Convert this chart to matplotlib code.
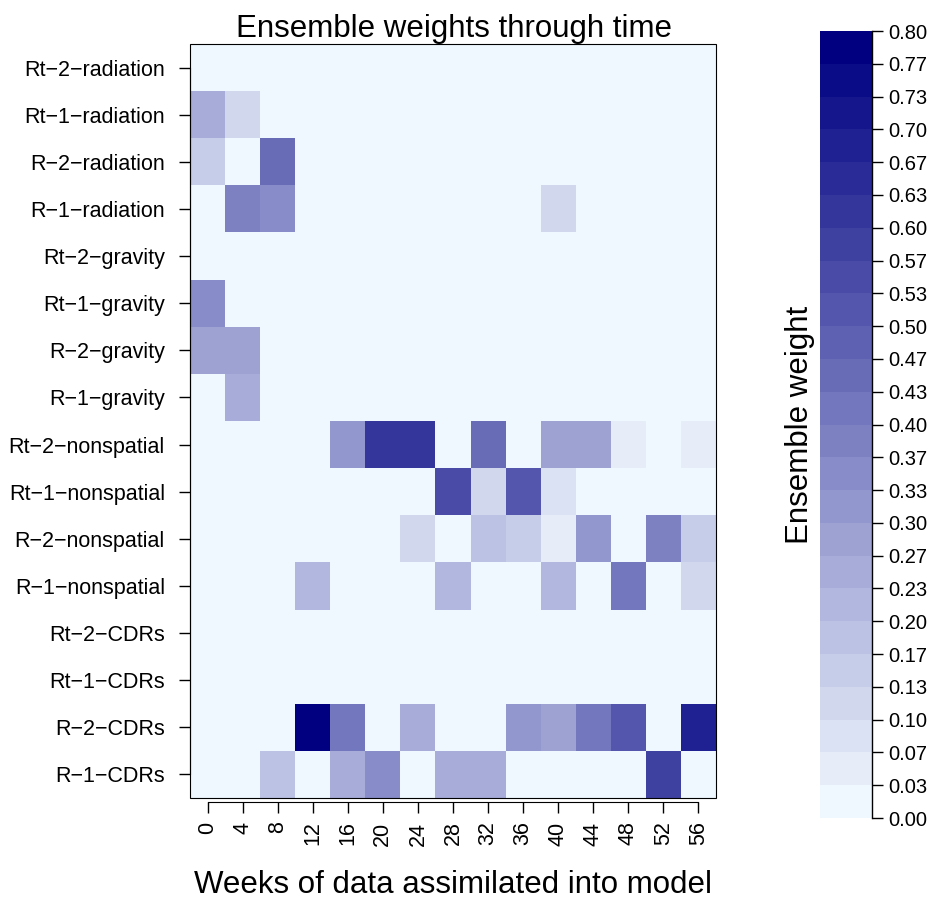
import numpy as np
import matplotlib
matplotlib.use("Agg")
import matplotlib.pyplot as plt
from matplotlib.colors import ListedColormap, BoundaryNorm, to_rgb
from matplotlib.patches import Rectangle

plt.rcParams['font.family'] = ['Liberation Sans', 'DejaVu Sans']

# weeks of data assimilated (columns)
weeks = [0, 4, 8, 12, 16, 20, 24, 28, 32, 36, 40, 44, 48, 52, 56]

# models, top to bottom
models = ["Rt-2-radiation", "Rt-1-radiation", "R-2-radiation", "R-1-radiation",
          "Rt-2-gravity", "Rt-1-gravity", "R-2-gravity", "R-1-gravity",
          "Rt-2-nonspatial", "Rt-1-nonspatial", "R-2-nonspatial", "R-1-nonspatial",
          "Rt-2-CDRs", "Rt-1-CDRs", "R-2-CDRs", "R-1-CDRs"]

# ensemble weight per model (row) and week (column)
weights = [
    [0, 0, 0, 0, 0, 0, 0, 0, 0, 0, 0, 0, 0, 0, 0],
    [0.25, 0.117, 0, 0, 0, 0, 0, 0, 0, 0, 0, 0, 0, 0, 0],
    [0.15, 0, 0.45, 0, 0, 0, 0, 0, 0, 0, 0, 0, 0, 0, 0],
    [0, 0.383, 0.35, 0, 0, 0, 0, 0, 0, 0, 0.117, 0, 0, 0, 0],
    [0, 0, 0, 0, 0, 0, 0, 0, 0, 0, 0, 0, 0, 0, 0],
    [0.35, 0, 0, 0, 0, 0, 0, 0, 0, 0, 0, 0, 0, 0, 0],
    [0.283, 0.283, 0, 0, 0, 0, 0, 0, 0, 0, 0, 0, 0, 0, 0],
    [0, 0.25, 0, 0, 0, 0, 0, 0, 0, 0, 0, 0, 0, 0, 0],
    [0, 0, 0, 0, 0.317, 0.617, 0.617, 0, 0.45, 0, 0.283, 0.283, 0.05, 0, 0.05],
    [0, 0, 0, 0, 0, 0, 0, 0.55, 0.117, 0.517, 0.083, 0, 0, 0, 0],
    [0, 0, 0, 0, 0, 0, 0.117, 0, 0.183, 0.15, 0.05, 0.317, 0, 0.383, 0.15],
    [0, 0, 0, 0.217, 0, 0, 0, 0.217, 0, 0, 0.217, 0, 0.417, 0, 0.117],
    [0, 0, 0, 0, 0, 0, 0, 0, 0, 0, 0, 0, 0, 0, 0],
    [0, 0, 0, 0, 0, 0, 0, 0, 0, 0, 0, 0, 0, 0, 0],
    [0, 0, 0, 0.783, 0.417, 0, 0.25, 0, 0, 0.317, 0.283, 0.417, 0.517, 0, 0.683],
    [0, 0, 0.183, 0, 0.25, 0.35, 0, 0.25, 0.25, 0, 0, 0, 0, 0.583, 0],
]

n_levels = 24
zmax = 0.8

# colour ramp aliceblue -> navy, like colorRampPalette in R
c0 = np.array(to_rgb("aliceblue"))
c1 = np.array(to_rgb("navy"))
cols = [np.clip(c0 + (c1 - c0) * k / (n_levels - 1), 0, 1) for k in range(n_levels)]
cmap = ListedColormap(cols)
bounds = np.linspace(0, zmax, n_levels + 1)
norm = BoundaryNorm(bounds, cmap.N)

W, H = 941, 899
fig = plt.figure(figsize=(W / 100, H / 100), dpi=100)
ax = fig.add_axes([190 / W, 1 - 798 / H, 526 / W, 754 / H])

z = np.array(weights)
xe = np.arange(len(weeks) + 1) - 0.5
ye = np.arange(len(models) + 1) - 0.5
ax.pcolormesh(xe, ye, z, cmap=cmap, norm=norm)

# axis lines like R: bottom one sits just under the box, both span first..last tick
for s in ['top', 'right']:
    ax.spines[s].set_visible(False)
ax.spines['bottom'].set_position(('outward', 3))

ax.set_xlim(-0.5, len(weeks) - 0.5)
ax.set_ylim(len(models) - 0.5, -0.5)
ax.spines['bottom'].set_bounds(0, len(weeks) - 1)
ax.spines['left'].set_bounds(0, len(models) - 1)

ax.set_xticks(range(len(weeks)))
ax.set_xticklabels([str(w) for w in weeks])
ax.set_yticks(range(len(models)))
ax.set_yticklabels([m.replace("-", "\u2212") for m in models])
ax.tick_params(axis='both', direction='out', length=8, width=1, color='black',
               labelsize=15.5)
ax.tick_params(axis='x', pad=6, labelrotation=90)
ax.tick_params(axis='y', pad=10)

ax.add_patch(Rectangle((0, 0), 1, 1, transform=ax.transAxes, fill=False,
                       lw=0.8, ec='black', clip_on=False))

fig.text(454 / W, 1 - 37 / H, "Ensemble weights through time", fontsize=22.5,
         ha='center', va='baseline')
fig.text(453 / W, 1 - 893 / H, "Weeks of data assimilated into model", fontsize=22.5,
         ha='center', va='baseline')

# colour key
cax = fig.add_axes([820 / W, 1 - 818 / H, 52 / W, 787 / H])
cb = fig.colorbar(plt.cm.ScalarMappable(norm=norm, cmap=cmap), cax=cax,
                  ticks=bounds)
cb.outline.set_visible(False)
cb.ax.set_yticklabels(["%.2f" % b for b in bounds])
cb.ax.tick_params(labelsize=14.5, length=8, width=1, direction='out')
cb.ax.spines['right'].set_visible(True)
cb.ax.spines['right'].set_linewidth(1)
fig.text(800 / W, 1 - 425 / H, "Ensemble weight", fontsize=22.5,
         rotation=90, ha='center', va='center')

fig.savefig("out.png", dpi=100)
